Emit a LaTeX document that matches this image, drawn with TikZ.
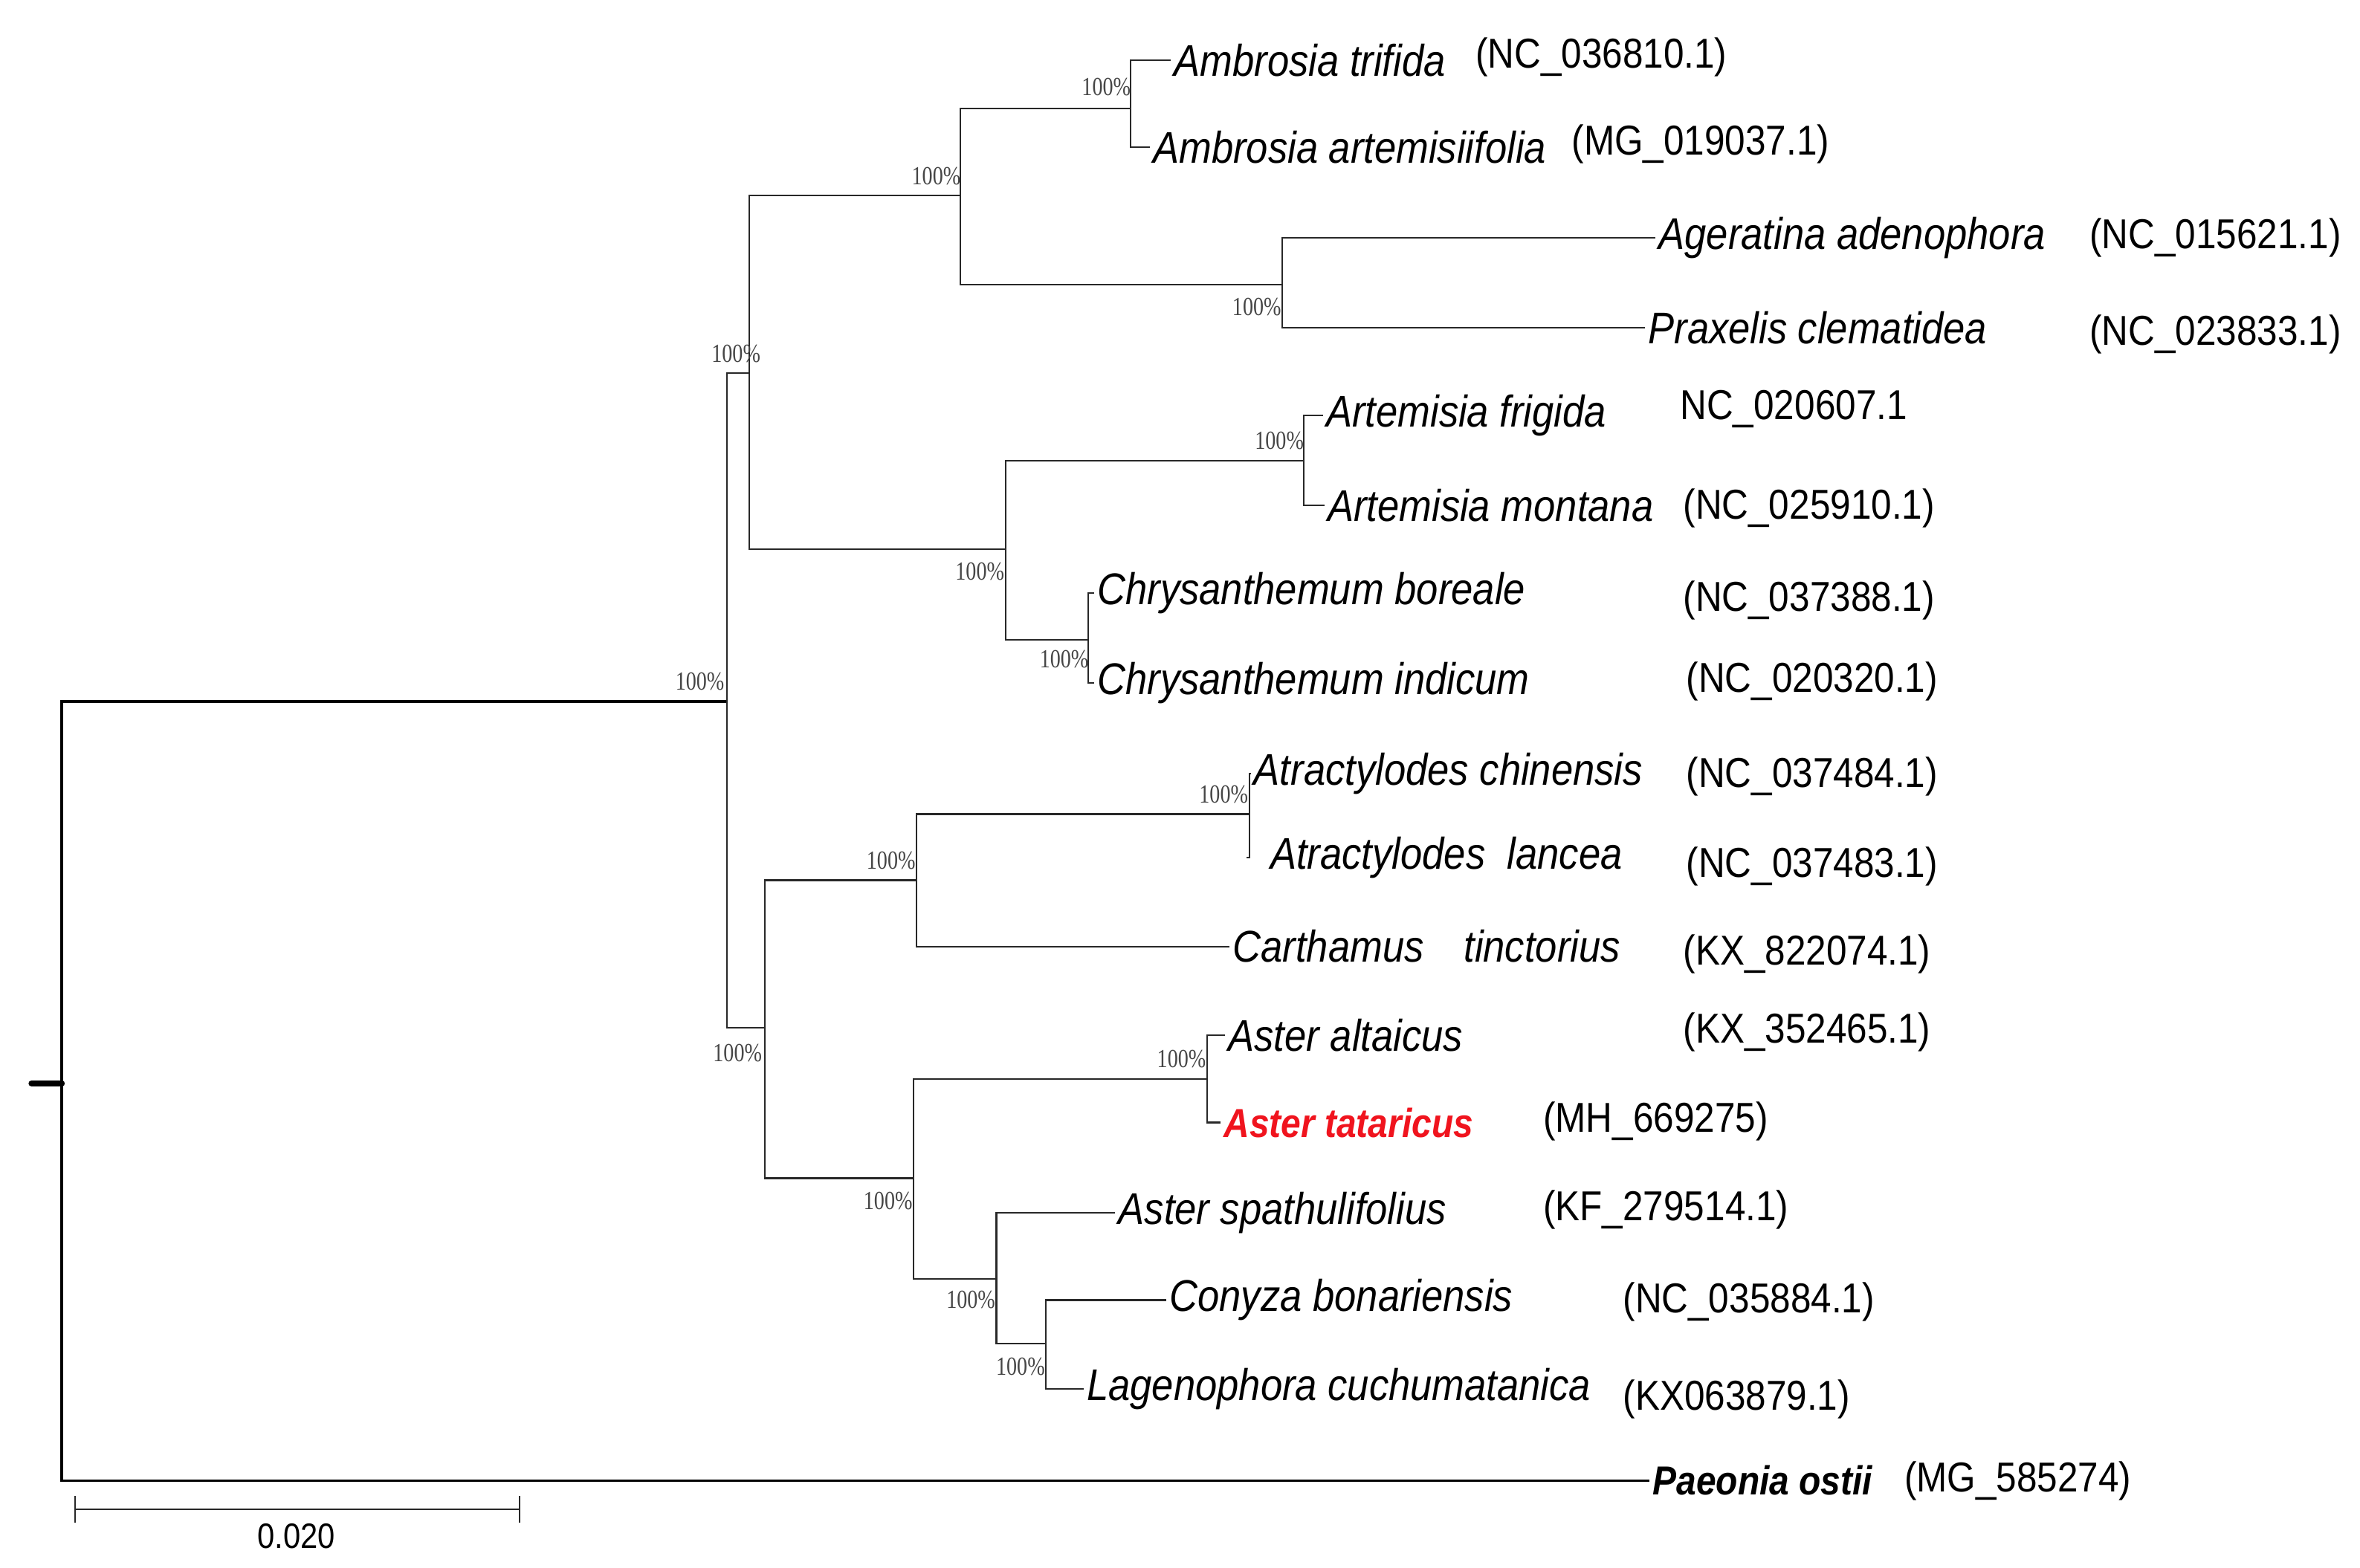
\documentclass[tikz,border=0pt]{standalone}
\usepackage{fontspec}
\setmainfont{Liberation Sans}
\newfontfamily\taxfont[FakeStretch=0.88]{Liberation Sans}
\newfontfamily\bootfont[FakeStretch=0.8]{Liberation Serif}
\definecolor{bootgray}{RGB}{70,70,70}
\definecolor{branchgray}{RGB}{40,40,40}
\definecolor{hired}{RGB}{240,20,30}

\begin{document}
\begin{tikzpicture}[x=0.02025cm,y=-0.02025cm,
    branch/.style={draw=branchgray,line width=0.6pt},
    rootbranch/.style={draw=black,line width=1.1pt},
    taxon/.style={anchor=west,inner sep=1pt,font=\taxfont\fontsize{17}{17}\selectfont\itshape},
    boldtaxon/.style={taxon,font=\taxfont\fontsize{15.5}{15.5}\selectfont\bfseries\itshape},
    acc/.style={anchor=west,inner sep=0pt,font=\taxfont\fontsize{16}{16}\selectfont},
    boot/.style={inner sep=0pt,text=bootgray,font=\bootfont\fontsize{10}{10}\selectfont}]
    \useasboundingbox (0,0) rectangle (1568,1042);
        % internal nodes
        \coordinate (nR) at (41,720);
        \coordinate (nA) at (483,466);
        \coordinate (nB) at (498,248);
        \coordinate (nC) at (638,130);
        \coordinate (nE) at (751,72);
        \coordinate (nF) at (852,189);
        \coordinate (nD) at (668,365);
        \coordinate (nG) at (866,306);
        \coordinate (nH) at (723,425);
        \coordinate (nI) at (508,683);
        \coordinate (nJ) at (609,585);
        \coordinate (nK) at (830,541);
        \coordinate (nL) at (607,783);
        \coordinate (nM) at (802,717);
        \coordinate (nN) at (662,850);
        \coordinate (nO) at (695,893);
        % taxa
        \node [taxon] (tri) at (778,40) {Ambrosia trifida};
        \node [taxon] (art) at (764,98) {Ambrosia artemisiifolia};
        \node [taxon] (age) at (1100,158) {Ageratina adenophora};
        \node [taxon] (pra) at (1093,218) {Praxelis clematidea};
        \node [taxon] (fri) at (879,276) {Artemisia frigida};
        \node [taxon] (mon) at (880,336) {Artemisia montana};
        \node [taxon] (bor) at (727,394) {Chrysanthemum boreale};
        \node [taxon] (ind) at (727,454) {Chrysanthemum indicum};
        \node [taxon] (chi) at (831,514) {Atractylodes chinensis};
        \node [taxon] (lan) at (842,570) {Atractylodes\ \ lancea};
        \node [taxon] (car) at (817,629) {Carthamus\hspace{0.9em}tinctorius};
        \node [taxon] (alt) at (814,688) {Aster altaicus};
        \node [boldtaxon,text=hired] (tat) at (811,746) {Aster tataricus};
        \node [taxon] (spa) at (741,806) {Aster spathulifolius};
        \node [taxon] (con) at (775,864) {Conyza bonariensis};
        \node [taxon] (lag) at (720,923) {Lagenophora cuchumatanica};
        \node [boldtaxon] (pae) at (1096,984) {Paeonia ostii};
        % accession numbers
        \node [acc] (acc1) at (980,38) {(NC\_036810.1)};
        \node [acc] (acc2) at (1044,96) {(MG\_019037.1)};
        \node [acc] (acc3) at (1388,158) {(NC\_015621.1)};
        \node [acc] (acc4) at (1388,222) {(NC\_023833.1)};
        \node [acc] (acc5) at (1116,272) {NC\_020607.1};
        \node [acc] (acc6) at (1118,338) {(NC\_025910.1)};
        \node [acc] (acc7) at (1118,399) {(NC\_037388.1)};
        \node [acc] (acc8) at (1120,453) {(NC\_020320.1)};
        \node [acc] (acc9) at (1120,516) {(NC\_037484.1)};
        \node [acc] (acc10) at (1120,576) {(NC\_037483.1)};
        \node [acc] (acc11) at (1118,634) {(KX\_822074.1)};
        \node [acc] (acc12) at (1118,686) {(KX\_352465.1)};
        \node [acc] (acc13) at (1025,745) {(MH\_669275)};
        \node [acc] (acc14) at (1025,804) {(KF\_279514.1)};
        \node [acc] (acc15) at (1078,865) {(NC\_035884.1)};
        \node [acc] (acc16) at (1078,930) {(KX063879.1)};
        \node [acc] (acc17) at (1265,984) {(MG\_585274)};
        % branches
        \path [rootbranch] (nR) |- (nA);
        \path [rootbranch] (nR) |- (pae.west);
        \path [draw,line width=2.4pt,line cap=round] (nR) -- ++(-20,0);
        \path [branch] (nA) |- (nB);
        \path [branch] (nA) |- (nI);
        \path [branch] (nB) |- (nC);
        \path [branch] (nB) |- (nD);
        \path [branch] (nC) |- (nE);
        \path [branch] (nC) |- (nF);
        \path [branch] (nE) |- (tri.west);
        \path [branch] (nE) |- (art.west);
        \path [branch] (nF) |- (age.west);
        \path [branch] (nF) |- (pra.west);
        \path [branch] (nD) |- (nG);
        \path [branch] (nD) |- (nH);
        \path [branch] (nG) |- (fri.west);
        \path [branch] (nG) |- (mon.west);
        \path [branch] (nH) |- (bor.west);
        \path [branch] (nH) |- (ind.west);
        \path [branch] (nI) |- (nJ);
        \path [branch] (nI) |- (nL);
        \path [branch] (nJ) |- (nK);
        \path [branch] (nJ) |- (car.west);
        \path [branch] (nK) |- (chi.west);
        \path [branch] (nK) |- ([xshift=-8]lan.west);
        \path [branch] (nL) |- (nM);
        \path [branch] (nL) |- (nN);
        \path [branch] (nM) |- (alt.west);
        \path [branch] (nM) |- (tat.west);
        \path [branch] (nN) |- (spa.west);
        \path [branch] (nN) |- (nO);
        \path [branch] (nO) |- (con.west);
        \path [branch] (nO) |- (lag.west);
        % bootstrap values
        \node [boot] (bA) at (465,453) {100\%};
        \node [boot] (bB) at (489,235) {100\%};
        \node [boot] (bC) at (622,117) {100\%};
        \node [boot] (bE) at (735,58) {100\%};
        \node [boot] (bF) at (835,204) {100\%};
        \node [boot] (bD) at (651,380) {100\%};
        \node [boot] (bG) at (850,293) {100\%};
        \node [boot] (bH) at (707,438) {100\%};
        \node [boot] (bI) at (490,700) {100\%};
        \node [boot] (bJ) at (592,572) {100\%};
        \node [boot] (bK) at (813,528) {100\%};
        \node [boot] (bL) at (590,798) {100\%};
        \node [boot] (bM) at (785,704) {100\%};
        \node [boot] (bN) at (645,864) {100\%};
        \node [boot] (bO) at (678,908) {100\%};
        % scale bar
        \coordinate (s1) at (50,1003);
        \coordinate (s2) at (345,1003);
        \path [branch] (s1) -- (s2);
        \path [branch] ([yshift=-5]s1) -- ([yshift=5]s1);
        \path [branch] ([yshift=-5]s2) -- ([yshift=5]s2);
        \node [acc,anchor=center,font=\taxfont\fontsize{13.5}{13.5}\selectfont] (scale) at (197,1021) {0.020};
    \end{tikzpicture}
\end{document}
